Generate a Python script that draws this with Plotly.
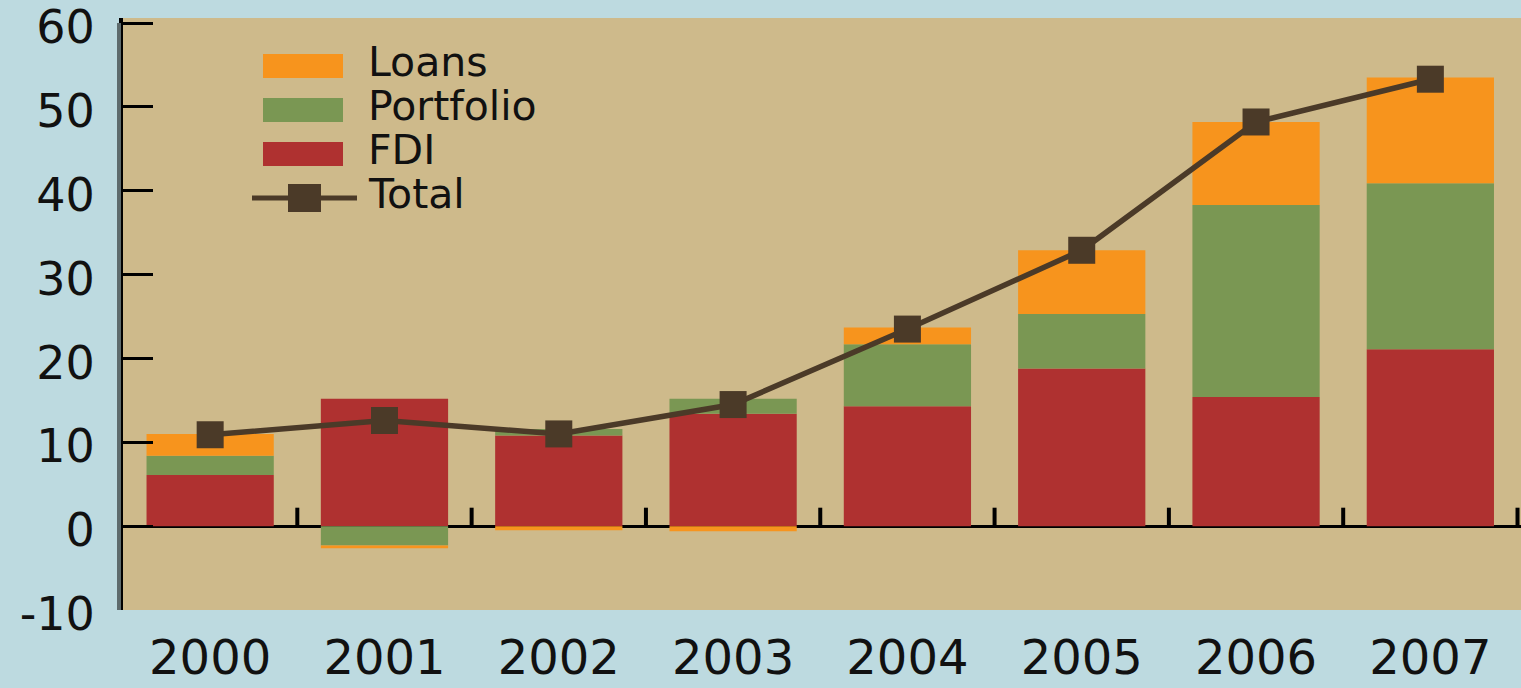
import plotly.graph_objects as go

# capital inflows by type
years = ['2000', '2001', '2002', '2003', '2004', '2005', '2006', '2007']
fdi = [6.1, 15.2, 10.8, 13.4, 14.3, 18.8, 15.4, 21.1]
portfolio = [2.3, -2.3, 0.8, 1.8, 7.4, 6.5, 22.9, 19.8]
loans = [2.6, -0.35, -0.5, -0.6, 2.0, 7.6, 9.9, 12.6]
total = [10.9, 12.6, 11.0, 14.5, 23.5, 32.9, 48.2, 53.3]
y_ticks = [-10, 0, 10, 20, 30, 40, 50, 60]

C_LOANS = '#F7941D'
C_PORT = '#7A9753'
C_FDI = '#AF3130'
C_TOTAL = '#4B3A28'
FONT = 'DejaVu Sans'

W, H = 1521, 688
L, R, T, B = 123, 0, 18, 78


def px_x(p):
    return (p - L) / (W - L - R)


def px_y(p):
    return (H - B - p) / (H - T - B)


fig = go.Figure()
fig.add_trace(go.Bar(x=years, y=fdi, name='FDI', marker=dict(color=C_FDI, line=dict(width=0))))
fig.add_trace(go.Bar(x=years, y=portfolio, name='Portfolio', marker=dict(color=C_PORT, line=dict(width=0))))
fig.add_trace(go.Bar(x=years, y=loans, name='Loans', marker=dict(color=C_LOANS, line=dict(width=0))))
fig.add_trace(go.Scatter(x=years, y=total, name='Total', mode='lines+markers',
                         line=dict(color=C_TOTAL, width=5.5),
                         marker=dict(symbol='square', size=27, color=C_TOTAL)))

shapes = []
# grey shadow left of the y axis
shapes.append(dict(type='line', xref='paper', yref='y', x0=px_x(119), x1=px_x(119), y0=-10, y1=60,
                   line=dict(color='#5E6B6D', width=4)))
# small ticks on the zero line between the years
for i in range(len(years)):
    shapes.append(dict(type='line', xref='x', yref='y', x0=i + 0.5, x1=i + 0.5, y0=0, y1=2.2,
                       line=dict(color='black', width=4)))

# hand-made legend, like the original
annotations = []
legend_items = [('Loans', C_LOANS, 'bar'), ('Portfolio', C_PORT, 'bar'),
                ('FDI', C_FDI, 'bar'), ('Total', C_TOTAL, 'line')]
for k, (label, col, kind) in enumerate(legend_items):
    cy = 66 + 44 * k
    if kind == 'bar':
        shapes.append(dict(type='rect', xref='paper', yref='paper', x0=px_x(263), x1=px_x(343),
                           y0=px_y(cy + 12), y1=px_y(cy - 12), fillcolor=col, line=dict(width=0)))
    else:
        shapes.append(dict(type='line', xref='paper', yref='paper', x0=px_x(252), x1=px_x(357),
                           y0=px_y(cy), y1=px_y(cy), line=dict(color=col, width=5)))
        shapes.append(dict(type='rect', xref='paper', yref='paper', x0=px_x(288), x1=px_x(321),
                           y0=px_y(cy + 14), y1=px_y(cy - 14), fillcolor=col, line=dict(width=0)))
    annotations.append(dict(xref='paper', yref='paper', x=px_x(366), y=px_y(cy - 4), text=label,
                            showarrow=False, xanchor='left', yanchor='middle',
                            font=dict(family=FONT, size=41, color='#111')))

fig.update_layout(
    barmode='relative',
    bargap=0.27,
    width=W, height=H,
    margin=dict(l=L, r=R, t=T, b=B, pad=0),
    paper_bgcolor='#BDDAE0',
    plot_bgcolor='#CEBA8B',
    showlegend=False,
    shapes=shapes,
    annotations=annotations,
)
fig.update_xaxes(type='category', range=[-0.5, 7.52], showline=False, ticks='', showgrid=False,
                 zeroline=False, ticklabelstandoff=15, automargin=False,
                 tickfont=dict(family=FONT, size=48, color='#111'))
fig.update_yaxes(range=[-10, 60.6], tickvals=y_ticks, ticktext=[str(v) for v in y_ticks],
                 ticks='inside', ticklen=30, tickwidth=3, ticklabelstandoff=15,
                 ticklabeloverflow='allow', automargin=False, ticklabelshift=4,
                 tickcolor='black', showline=True, linewidth=4, linecolor='black', showgrid=False,
                 zeroline=True, zerolinecolor='black', zerolinewidth=3,
                 tickfont=dict(family=FONT, size=46, color='#111'))

fig.write_html('out.html', config={'displayModeBar': False},
               post_script="document.body.style.margin='0';")
